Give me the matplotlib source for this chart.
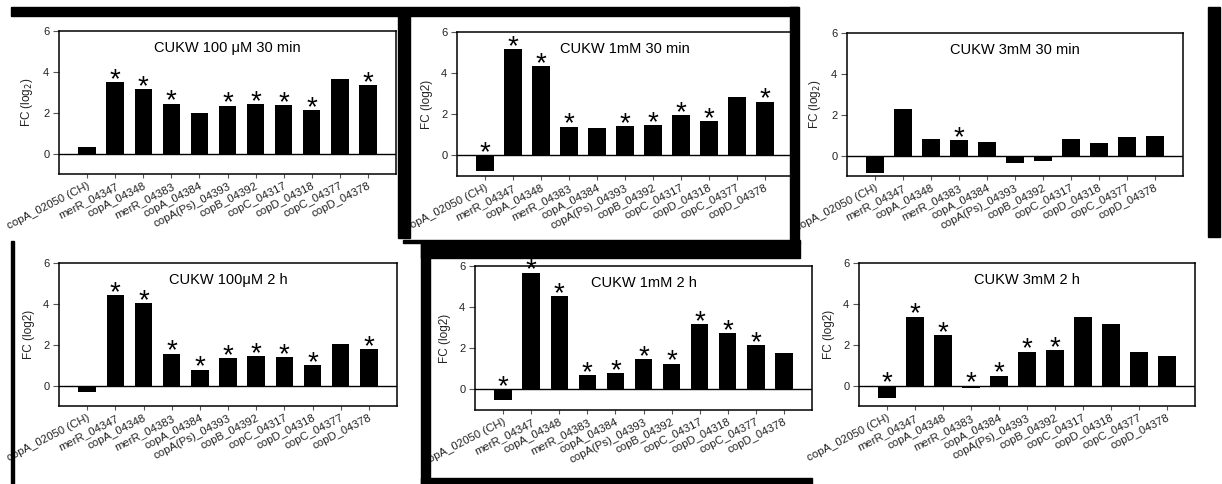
import numpy as np
import matplotlib
matplotlib.use('Agg')
import matplotlib.pyplot as plt
from matplotlib.patches import Rectangle

plt.rcParams['font.family'] = ['Liberation Sans', 'DejaVu Sans']

genes = ['copA_02050 (CH)', 'merR_04347', 'copA_04348', 'merR_04383', 'copA_04384',
         'copA(Ps)_04393', 'copB_04392', 'copC_04317', 'copD_04318', 'copC_04377', 'copD_04378']

titles = ['CUKW 100 \u03bcM 30 min', 'CUKW 1mM 30 min', 'CUKW 3mM 30 min',
          'CUKW 100\u03bcM 2 h', 'CUKW 1mM 2 h', 'CUKW 3mM 2 h']

fc_100uM_30 = [0.3, 3.5, 3.15, 2.45, 2.0, 2.35, 2.43, 2.38, 2.14, 3.64, 3.34]
fc_1mM_30 = [-0.78, 5.17, 4.34, 1.40, 1.32, 1.43, 1.48, 1.95, 1.66, 2.83, 2.62]
fc_3mM_30 = [-0.83, 2.27, 0.82, 0.75, 0.64, -0.36, -0.25, 0.82, 0.60, 0.92, 0.98]
fc_100uM_2h = [-0.32, 4.43, 4.04, 1.56, 0.78, 1.35, 1.44, 1.39, 1.0, 2.04, 1.78]
fc_1mM_2h = [-0.49, 5.68, 4.54, 0.68, 0.78, 1.46, 1.26, 3.16, 2.72, 2.14, 1.75]
fc_3mM_2h = [-0.62, 3.38, 2.46, -0.10, 0.49, 1.66, 1.74, 3.38, 3.0, 1.65, 1.45]

sig_100uM_30 = [0, 1, 1, 1, 0, 1, 1, 1, 1, 0, 1]
sig_1mM_30 = [1, 1, 1, 1, 0, 1, 1, 1, 1, 0, 1]
sig_3mM_30 = [0, 0, 0, 1, 0, 0, 0, 0, 0, 0, 0]
sig_100uM_2h = [0, 1, 1, 1, 1, 1, 1, 1, 1, 0, 1]
sig_1mM_2h = [1, 1, 1, 1, 1, 1, 1, 1, 1, 1, 0]
sig_3mM_2h = [1, 1, 1, 1, 1, 1, 1, 0, 0, 0, 0]

ylabels = ['FC (log$_2$)', 'FC (log2)', 'FC (log$_2$)', 'FC (log2)', 'FC (log2)', 'FC (log2)']

values = [fc_100uM_30, fc_1mM_30, fc_3mM_30, fc_100uM_2h, fc_1mM_2h, fc_3mM_2h]
sigs = [sig_100uM_30, sig_1mM_30, sig_3mM_30, sig_100uM_2h, sig_1mM_2h, sig_3mM_2h]

W, H = 1222, 484
fig = plt.figure(figsize=(W / 100, H / 100), dpi=100)

# axes boxes in pixels: left, right, top, bottom
boxes = [(59, 396, 31, 174), (457, 793, 32, 176), (847, 1183, 33, 176),
         (59, 397, 263, 406), (475, 812, 266, 410), (859, 1195, 263, 406)]


def px_rect(x0, y0, x1, y1):
    fig.patches.append(Rectangle((x0 / W, 1 - y1 / H), (x1 - x0) / W, (y1 - y0) / H,
                                 transform=fig.transFigure, color='black', zorder=0))


# black frame pieces around the pasted panels
px_rect(11, 7, 798, 16)
px_rect(398, 16, 410, 238)
px_rect(790, 7, 799, 243)
px_rect(403, 240, 800, 243)
px_rect(421, 242, 800, 258)
px_rect(421, 242, 430, 484)
px_rect(421, 478, 812, 484)
px_rect(1208, 7, 1220, 237)
px_rect(11, 241, 14, 484)

x = np.arange(len(genes))
for i in range(6):
    l, r, t, b = boxes[i]
    ax = fig.add_axes([l / W, 1 - b / H, (r - l) / W, (b - t) / H])
    ax.bar(x, values[i], width=0.62, color='black', zorder=2)
    ax.axhline(0, color='black', lw=1.0, zorder=3)
    ax.set_xlim(-1, 11)
    ax.set_ylim(-1, 6)
    ax.set_yticks([0, 2, 4, 6])
    ax.set_xticks(x)
    ax.set_xticklabels(genes, rotation=27, ha='right', rotation_mode='anchor',
                       fontsize=8.2, color='#222222')
    ax.tick_params(axis='y', labelsize=8, length=4, width=0.8, color='#555555', pad=3,
                   labelcolor='#222222')
    ax.tick_params(axis='x', length=3, width=0.8, color='#555555', pad=2)
    ax.set_ylabel(ylabels[i], fontsize=8.5, labelpad=6, color='#222222')
    for s in ax.spines.values():
        s.set_linewidth(1.1)
    ax.text(0.5, 0.88, titles[i], transform=ax.transAxes, ha='center', va='center', fontsize=10.5)
    for j in range(len(genes)):
        if sigs[i][j]:
            top = max(values[i][j], 0)
            ax.annotate('*', (x[j], top), xytext=(0, -3.5), textcoords='offset points',
                        ha='center', va='baseline', fontsize=20, zorder=4)

fig.savefig('out.png', dpi=100, facecolor='white')
